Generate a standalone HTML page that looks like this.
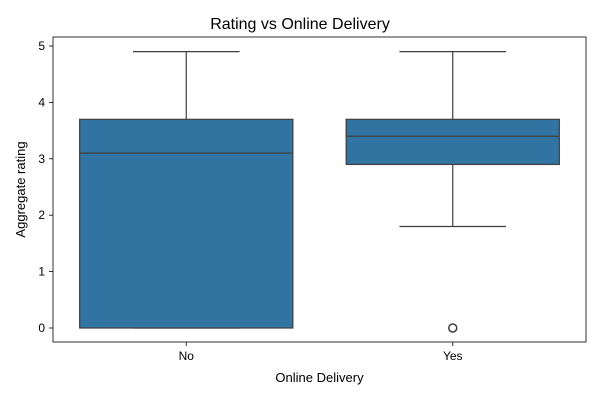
<!DOCTYPE html>
<html><head><meta charset="utf-8"><style>body{margin:0;background:#fff}svg text{font-family:"Liberation Sans","DejaVu Sans",sans-serif;fill:#000}</style></head>
<body>
<svg id="c" width="600" height="400"></svg>
<script>
const categories=["No","Yes"];
const q1=[0,2.9];
const median=[3.1,3.4];
const q3=[3.7,3.7];
const whiskLow=[0,1.8];
const whiskHigh=[4.9,4.9];
const outliers=[[],[0]];
const yTicks=[0,1,2,3,4,5];
const NS="http://www.w3.org/2000/svg";
const svg=document.getElementById('c');
const L=53,R=586,T=37,B=342;
const y=v=>328-v*56.4;
const bw=(R-L)/categories.length;
const xc=i=>L+bw*(i+0.5);
function mk(t,a,p){const e=document.createElementNS(NS,t);for(const k in a)e.setAttribute(k,a[k]);(p||svg).appendChild(e);return e;}
let e;
e=mk('text',{x:300,y:29,'text-anchor':'middle','font-size':16});e.textContent='Rating vs Online Delivery';


yTicks.forEach(t=>{
 e=mk('line',{x1:L-4,x2:L,y1:y(t),y2:y(t),stroke:'#000','stroke-width':0.8});
 
 
 e=mk('text',{x:L-8,y:y(t)+4,'text-anchor':'end','font-size':12});e.textContent=t;
 
 
});
categories.forEach((c,i)=>{
 const x=xc(i),w=bw*0.8,cw=w/2,s='#3f3f3f';
 e=mk('line',{x1:x,x2:x,y1:y(whiskLow[i]),y2:y(q1[i]),stroke:s,'stroke-width':1.2});
 
 
 e=mk('line',{x1:x,x2:x,y1:y(q3[i]),y2:y(whiskHigh[i]),stroke:s,'stroke-width':1.2});
 
 
 e=mk('line',{x1:x-cw/2,x2:x+cw/2,y1:y(whiskLow[i]),y2:y(whiskLow[i]),stroke:s,'stroke-width':1.2});
 
 
 e=mk('line',{x1:x-cw/2,x2:x+cw/2,y1:y(whiskHigh[i]),y2:y(whiskHigh[i]),stroke:s,'stroke-width':1.2});
 
 
 e=mk('rect',{x:x-w/2,y:y(q3[i]),width:w,height:y(q1[i])-y(q3[i]),fill:'#3274a1',stroke:s,'stroke-width':1.2});
 
 
 e=mk('line',{x1:x-w/2,x2:x+w/2,y1:y(median[i]),y2:y(median[i]),stroke:s,'stroke-width':1.2});
 
 
 outliers[i].forEach(o=>{
  e=mk('circle',{cx:x,cy:y(o),r:4,fill:'none',stroke:s,'stroke-width':1.5});
  
  
 });
 e=mk('line',{x1:x,x2:x,y1:B,y2:B+4,stroke:'#000','stroke-width':0.8});
 
 
 e=mk('text',{x:x,y:B+18,'text-anchor':'middle','font-size':12});e.textContent=c;
 
 
});
e=mk('rect',{x:L,y:T,width:R-L,height:B-T,fill:'none',stroke:'#000','stroke-width':0.8});


e=mk('text',{x:(L+R)/2,y:382,'text-anchor':'middle','font-size':13});e.textContent='Online Delivery';


e=mk('text',{x:25,y:(T+B)/2,'text-anchor':'middle','font-size':13,transform:`rotate(-90 25 ${(T+B)/2})`});e.textContent='Aggregate rating';


</script>
</body></html>
